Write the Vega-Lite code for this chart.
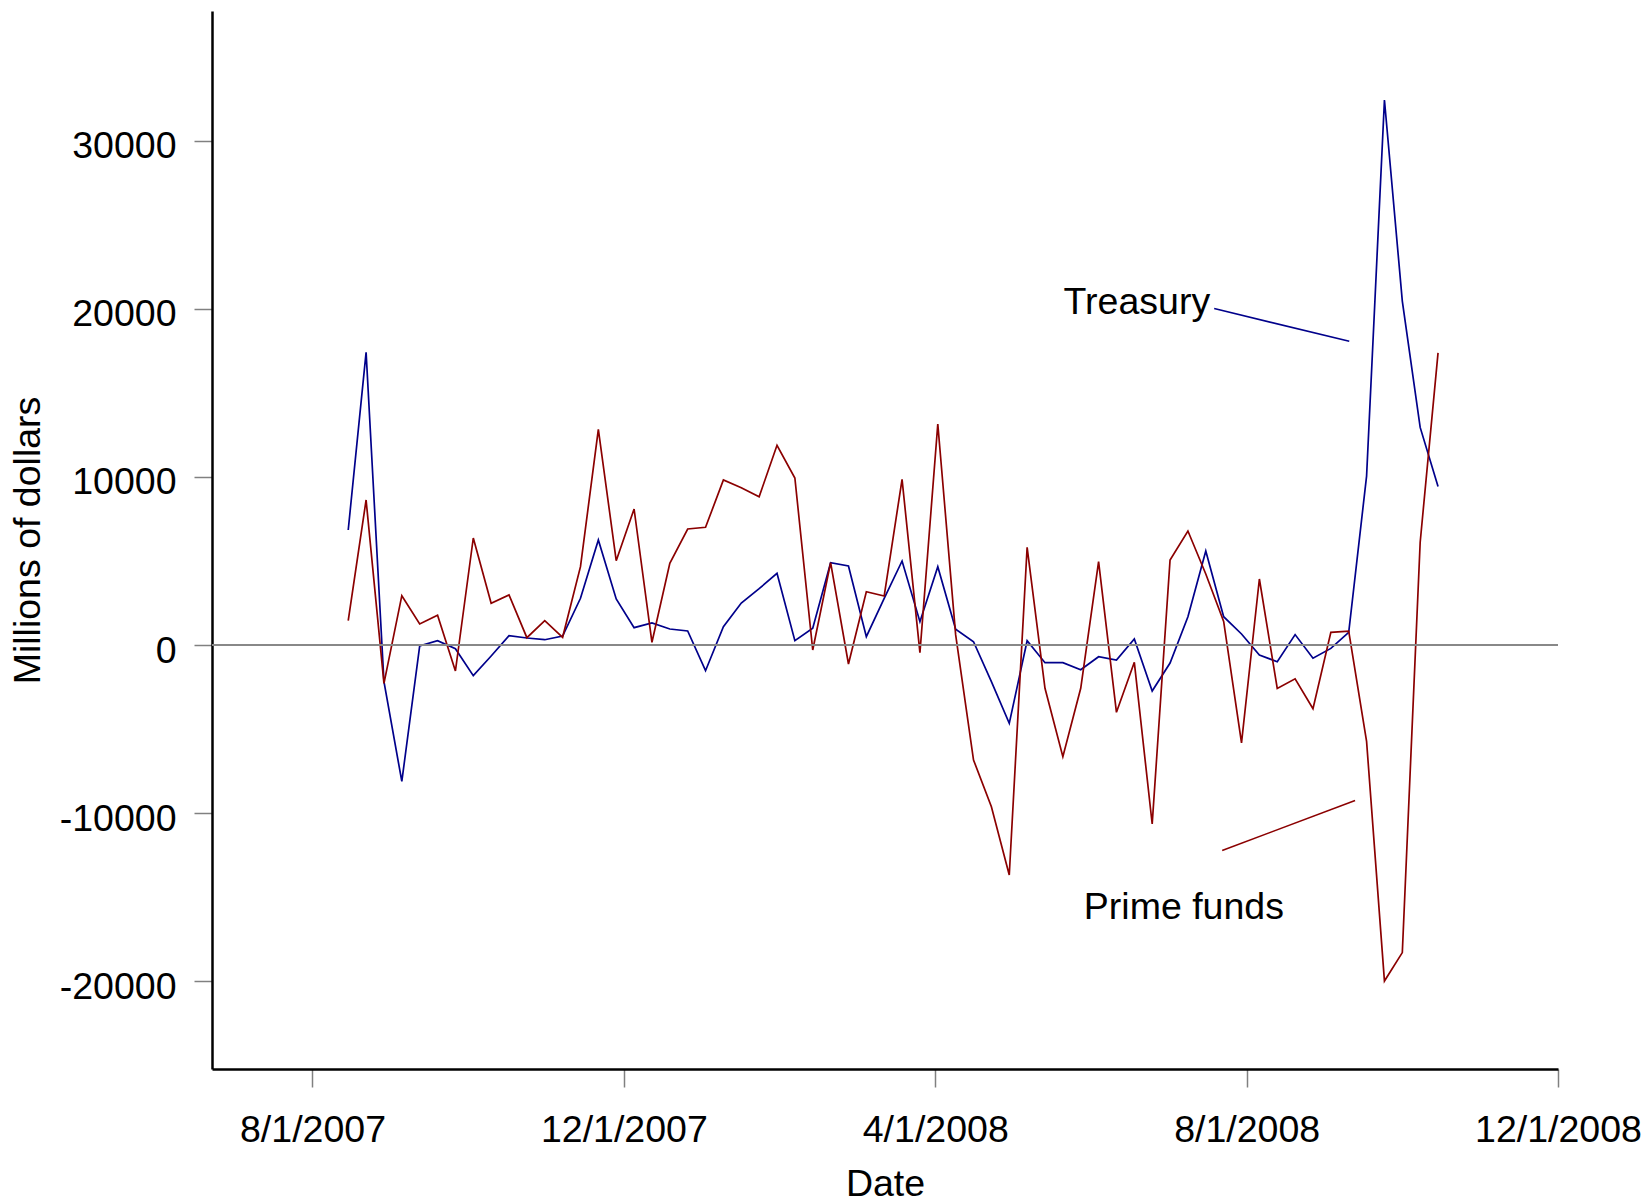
{
  "$schema": "https://vega.github.io/schema/vega-lite/v6.json",
  "width": 1346,
  "height": 1058,
  "autosize": {"type": "none"},
  "padding": {"left": 212, "top": 11, "right": 86, "bottom": 135},
  "background": "white",
  "config": {
    "view": {"stroke": null},
    "font": "Liberation Sans",
    "axis": {
      "grid": false,
      "domainColor": "black",
      "domainWidth": 2.5,
      "tickColor": "#808080",
      "tickWidth": 1.5,
      "tickSize": 18,
      "labelFont": "Liberation Sans",
      "labelFontSize": 37.5,
      "labelColor": "black",
      "labelOverlap": false,
      "labelFlush": false,
      "labelBound": false,
      "titleFont": "Liberation Sans",
      "titleFontSize": 37.5,
      "titleFontWeight": "normal",
      "titleColor": "black"
    },
    "axisX": {
      "labelBaseline": "alphabetic",
      "labelPadding": 54,
      "titleBaseline": "alphabetic",
      "titleY": 126,
      "titleX": 673
    },
    "axisY": {
      "labelPadding": 18,
      "labelOffset": 6,
      "titleAngle": -90,
      "titleAlign": "center",
      "titleBaseline": "middle",
      "titleX": -184,
      "titleY": 529
    }
  },
  "datasets": {
    "flows": [
      {"date": "2007-08-15", "treasury": 6845, "prime": 1446},
      {"date": "2007-08-22", "treasury": 17423, "prime": 8631},
      {"date": "2007-08-29", "treasury": -2185, "prime": -2280},
      {"date": "2007-09-05", "treasury": -8120, "prime": 2935},
      {"date": "2007-09-12", "treasury": -50, "prime": 1250},
      {"date": "2007-09-19", "treasury": 256, "prime": 1768},
      {"date": "2007-09-26", "treasury": -220, "prime": -1548},
      {"date": "2007-10-03", "treasury": -1827, "prime": 6369},
      {"date": "2007-10-10", "treasury": -655, "prime": 2482},
      {"date": "2007-10-17", "treasury": 554, "prime": 2976},
      {"date": "2007-10-24", "treasury": 417, "prime": 435},
      {"date": "2007-10-31", "treasury": 315, "prime": 1446},
      {"date": "2007-11-07", "treasury": 536, "prime": 458},
      {"date": "2007-11-14", "treasury": 2780, "prime": 4661},
      {"date": "2007-11-21", "treasury": 6250, "prime": 12839},
      {"date": "2007-11-28", "treasury": 2738, "prime": 5018},
      {"date": "2007-12-05", "treasury": 1030, "prime": 8095},
      {"date": "2007-12-12", "treasury": 1310, "prime": 161},
      {"date": "2007-12-19", "treasury": 952, "prime": 4863},
      {"date": "2007-12-26", "treasury": 833, "prime": 6905},
      {"date": "2008-01-02", "treasury": -1530, "prime": 7006},
      {"date": "2008-01-09", "treasury": 1089, "prime": 9821},
      {"date": "2008-01-16", "treasury": 2500, "prime": 9363},
      {"date": "2008-01-23", "treasury": 3351, "prime": 8827},
      {"date": "2008-01-30", "treasury": 4268, "prime": 11887},
      {"date": "2008-02-06", "treasury": 256, "prime": 9940},
      {"date": "2008-02-13", "treasury": 994, "prime": -298},
      {"date": "2008-02-20", "treasury": 4899, "prime": 4899},
      {"date": "2008-02-27", "treasury": 4702, "prime": -1131},
      {"date": "2008-03-05", "treasury": 494, "prime": 3173},
      {"date": "2008-03-12", "treasury": 2780, "prime": 2917},
      {"date": "2008-03-19", "treasury": 5000, "prime": 9863},
      {"date": "2008-03-26", "treasury": 1387, "prime": -458},
      {"date": "2008-04-02", "treasury": 4661, "prime": 13155},
      {"date": "2008-04-09", "treasury": 934, "prime": 600},
      {"date": "2008-04-16", "treasury": 196, "prime": -6845},
      {"date": "2008-04-23", "treasury": -2185, "prime": -9625},
      {"date": "2008-04-30", "treasury": -4661, "prime": -13690},
      {"date": "2008-05-07", "treasury": 256, "prime": 5815},
      {"date": "2008-05-14", "treasury": -1054, "prime": -2577},
      {"date": "2008-05-21", "treasury": -1054, "prime": -6649},
      {"date": "2008-05-28", "treasury": -1470, "prime": -2577},
      {"date": "2008-06-04", "treasury": -696, "prime": 4958},
      {"date": "2008-06-11", "treasury": -893, "prime": -4006},
      {"date": "2008-06-18", "treasury": 357, "prime": -1030},
      {"date": "2008-06-25", "treasury": -2738, "prime": -10655},
      {"date": "2008-07-02", "treasury": -1071, "prime": 5060},
      {"date": "2008-07-09", "treasury": 1685, "prime": 6786},
      {"date": "2008-07-16", "treasury": 5595, "prime": 4226},
      {"date": "2008-07-23", "treasury": 1685, "prime": 1400},
      {"date": "2008-07-30", "treasury": 655, "prime": -5827},
      {"date": "2008-08-06", "treasury": -595, "prime": 3929},
      {"date": "2008-08-13", "treasury": -994, "prime": -2589},
      {"date": "2008-08-20", "treasury": 619, "prime": -2012},
      {"date": "2008-08-27", "treasury": -786, "prime": -3792},
      {"date": "2008-09-03", "treasury": -202, "prime": 756},
      {"date": "2008-09-10", "treasury": 756, "prime": 821},
      {"date": "2008-09-17", "treasury": 10048, "prime": -5738},
      {"date": "2008-09-24", "treasury": 32440, "prime": -20000},
      {"date": "2008-10-01", "treasury": 20470, "prime": -18310},
      {"date": "2008-10-08", "treasury": 12952, "prime": 6119},
      {"date": "2008-10-15", "treasury": 9435, "prime": 17393}
    ],
    "pointers": [
      {"date": "2008-07-19T07:00:00Z", "value": 20024, "series": "treasury"},
      {"date": "2008-09-10T05:00:00Z", "value": 18077, "series": "treasury"},
      {"date": "2008-07-22T10:00:00Z", "value": -12232, "series": "prime"},
      {"date": "2008-09-12T12:00:00Z", "value": -9256, "series": "prime"}
    ],
    "labels": [
      {"date": "2008-06-19T00:00:00Z", "value": 19700, "label": "Treasury"},
      {"date": "2008-07-07T10:00:00Z", "value": -16280, "label": "Prime funds"}
    ],
    "baseline": [{"value": 0}]
  },
  "layer": [
    {
      "data": {"name": "flows"},
      "transform": [{"fold": ["treasury", "prime"], "as": ["series", "value"]}],
      "mark": {"type": "line", "strokeWidth": 1.7},
      "encoding": {
        "x": {
          "field": "date",
          "type": "temporal",
          "title": "Date",
          "scale": {
            "type": "utc",
            "domain": [
              {"year": 2007, "month": 6, "date": 22, "hours": 15, "utc": true},
              {"year": 2008, "month": 12, "date": 1, "utc": true}
            ]
          },
          "axis": {
            "format": "%-m/%-d/%Y",
            "values": [
              {"year": 2007, "month": 8, "date": 1, "utc": true},
              {"year": 2007, "month": 12, "date": 1, "utc": true},
              {"year": 2008, "month": 4, "date": 1, "utc": true},
              {"year": 2008, "month": 8, "date": 1, "utc": true},
              {"year": 2008, "month": 12, "date": 1, "utc": true}
            ]
          }
        },
        "y": {
          "field": "value",
          "type": "quantitative",
          "title": "Millions of dollars",
          "scale": {"domain": [-25238, 37738], "nice": false, "zero": false},
          "axis": {
            "values": [-20000, -10000, 0, 10000, 20000, 30000],
            "labelExpr": "toString(datum.value)"
          }
        },
        "color": {
          "field": "series",
          "type": "nominal",
          "scale": {"domain": ["treasury", "prime"], "range": ["#00008B", "#8B0000"]},
          "legend": null
        }
      }
    },
    {
      "data": {"name": "baseline"},
      "mark": {"type": "rule", "color": "#888888", "strokeWidth": 2},
      "encoding": {"y": {"field": "value", "type": "quantitative", "title": "Millions of dollars"}}
    },
    {
      "data": {"name": "pointers"},
      "mark": {"type": "line", "strokeWidth": 1.6},
      "encoding": {
        "x": {"field": "date", "type": "temporal", "title": "Date"},
        "y": {"field": "value", "type": "quantitative", "title": "Millions of dollars"},
        "color": {"field": "series", "type": "nominal", "legend": null},
        "detail": {"field": "series", "type": "nominal"}
      }
    },
    {
      "data": {"name": "labels"},
      "mark": {"type": "text", "font": "Liberation Sans", "fontSize": 37.5, "color": "black", "align": "center", "baseline": "alphabetic"},
      "encoding": {
        "x": {"field": "date", "type": "temporal", "title": "Date"},
        "y": {"field": "value", "type": "quantitative", "title": "Millions of dollars"},
        "text": {"field": "label", "type": "nominal"}
      }
    }
  ]
}
